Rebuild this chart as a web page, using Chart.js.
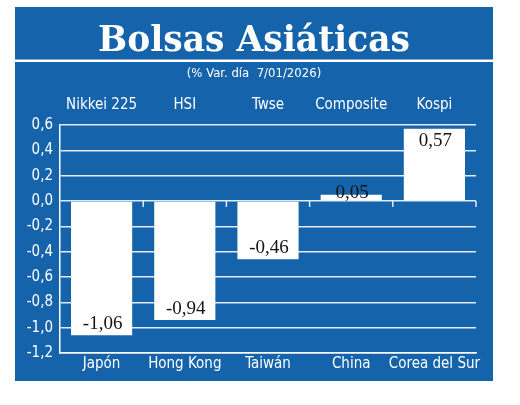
<!DOCTYPE html>
<html lang="es">
<head>
    <meta charset="UTF-8">
    <title>Bolsas Asiáticas</title>
    <style>
        body { margin: 0; background: #fff; }
        #wrap { position: absolute; left: 15px; top: 7px; width: 478px; height: 374px; }
    </style>
</head>
<body>
    <div id="wrap">
        <canvas id="myChart" width="478" height="374"></canvas>
    </div>

    <script src="https://cdn.jsdelivr.net/npm/chart.js"></script>
    <script>
        const countries = ['Japón', 'Hong Kong', 'Taiwán', 'China', 'Corea del Sur'];
        const indices = ['Nikkei 225', 'HSI', 'Twse', 'Composite', 'Kospi'];
        const changes = [-1.06, -0.94, -0.46, 0.05, 0.57];
        const yMin = -1.2;
        const yMax = 0.6;
        const yStep = 0.2;

        const blue = '#1563ab';
        const lineColor = 'rgba(235,242,250,0.95)';
        const condensed = "'Liberation Sans Narrow', 'DejaVu Sans Condensed', sans-serif";

        const fmt = (v) => v.toFixed(2).replace('.', ',');

        // fondo azul y raya blanca bajo el titulo
        const panel = {
            id: 'panel',
            beforeDraw(chart) {
                const c = chart.ctx;
                c.save();
                c.fillStyle = blue;
                c.fillRect(0, 0, chart.width, chart.height);
                c.fillStyle = '#ffffff';
                c.fillRect(0, 52.5, chart.width, 2.5);
                c.restore();
            }
        };

        // rayitas bajo la linea del cero y etiquetas de valor
        const extras = {
            id: 'extras',
            beforeDatasetsDraw(chart) {
                const c = chart.ctx;
                const x = chart.scales.x;
                const y0 = chart.scales.y.getPixelForValue(0);
                const half = (x.getPixelForValue(1) - x.getPixelForValue(0)) / 2;
                c.save();
                c.strokeStyle = lineColor;
                c.lineWidth = 1.5;
                c.beginPath();
                for (let i = 0; i < countries.length; i++) {
                    const px = x.getPixelForValue(i) + half;
                    c.moveTo(px, y0);
                    c.lineTo(px, y0 + 6);
                }
                c.stroke();
                c.restore();
            },
            afterDatasetsDraw(chart) {
                const c = chart.ctx;
                const meta = chart.getDatasetMeta(0);
                c.save();
                c.font = "19px 'Liberation Serif', serif";
                c.fillStyle = '#141414';
                c.textAlign = 'center';
                c.textBaseline = 'middle';
                meta.data.forEach((bar, i) => {
                    const v = changes[i];
                    const h = Math.abs(bar.base - bar.y);
                    let ty;
                    if (h < 24) {
                        ty = bar.y - 2;
                    } else {
                        ty = v < 0 ? bar.y - 11 : bar.y + 12;
                    }
                    c.fillText(fmt(v), bar.x + 1, ty);
                });
                c.restore();
            }
        };

        const ctx = document.getElementById('myChart');

        let chart = new Chart(ctx, {
            type: 'bar',
            data: {
                labels: countries,
                datasets: [{
                    data: changes,
                    backgroundColor: '#ffffff',
                    borderWidth: 0,
                    barPercentage: 0.735,
                    categoryPercentage: 1
                }]
            },
            plugins: [panel, extras],
            options: {
                responsive: false,
                animation: false,
                layout: {
                    padding: { left: 0, right: 0, top: 0, bottom: 6 }
                },
                plugins: {
                    legend: { display: false },
                    tooltip: { enabled: false },
                    title: {
                        display: true,
                        text: 'Bolsas Asiáticas',
                        color: '#ffffff',
                        font: { family: "'DejaVu Serif', serif", size: 34.5, weight: 'bold' },
                        padding: { top: 14, bottom: 3 }
                    },
                    subtitle: {
                        display: true,
                        text: '(% Var. día  7/01/2026)',
                        color: '#ffffff',
                        font: { family: condensed, size: 13 },
                        padding: { top: 0, bottom: 4 }
                    }
                },
                scales: {
                    x: {
                        position: 'bottom',
                        grid: { display: false, drawTicks: false },
                        border: { display: true, color: '#ffffff', width: 1.5 },
                        ticks: {
                            color: '#ffffff',
                            font: { family: condensed, size: 15 },
                            padding: 2,
                            maxRotation: 0,
                            autoSkip: false
                        }
                    },
                    x2: {
                        type: 'category',
                        position: 'top',
                        labels: indices,
                        offset: true,
                        grid: { display: false, drawTicks: false },
                        border: { display: false },
                        ticks: {
                            color: '#ffffff',
                            font: { family: condensed, size: 15 },
                            padding: 11,
                            maxRotation: 0,
                            autoSkip: false
                        }
                    },
                    y: {
                        min: yMin,
                        max: yMax,
                        afterFit: (scale) => { scale.width = 45; },
                        grid: { color: lineColor, lineWidth: 1.5, drawTicks: false },
                        border: { display: true, color: '#ffffff', width: 1.5 },
                        ticks: {
                            stepSize: yStep,
                            color: '#ffffff',
                            font: { family: condensed, size: 15 },
                            padding: 7,
                            callback: (v) => v.toFixed(1).replace('.', ',')
                        }
                    },
                    // margen derecho vacio
                    y2: {
                        position: 'right',
                        min: yMin,
                        max: yMax,
                        afterFit: (scale) => { scale.width = 17; },
                        grid: { display: false, drawTicks: false },
                        border: { display: false },
                        ticks: { display: false }
                    }
                }
            }
        });
    </script>
</body>
</html>
